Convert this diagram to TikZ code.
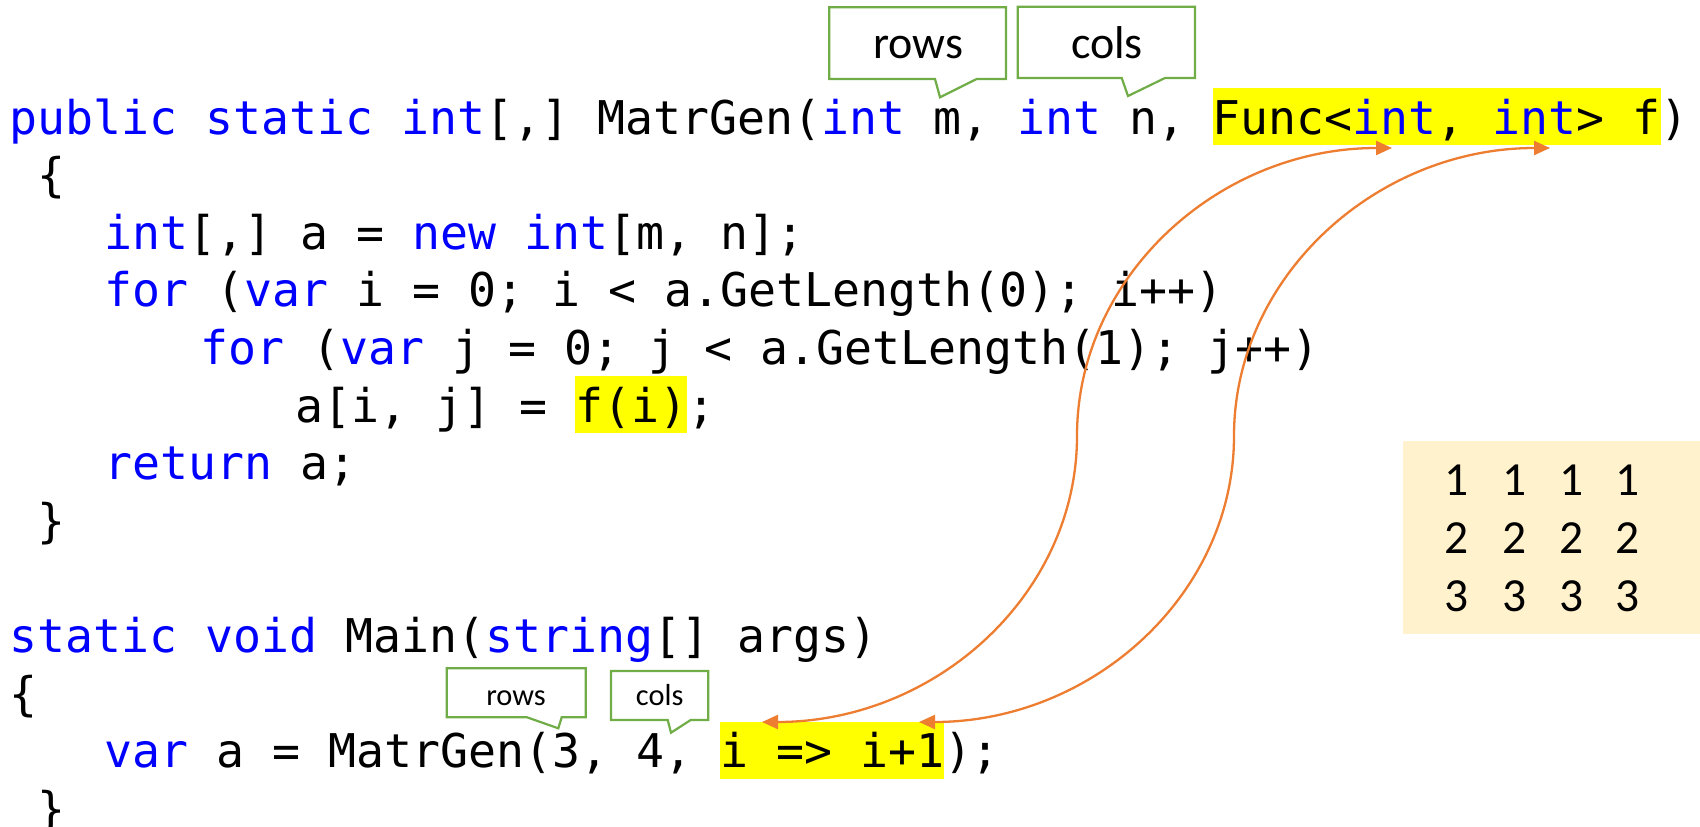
\documentclass[tikz,border=0pt]{standalone}
\usepackage{fontspec}
\usetikzlibrary{arrows.meta}
\newfontfamily\codefont{DejaVu Sans Mono}
\newfontfamily\calfont{Carlito}
\definecolor{kwblue}{HTML}{0000FF}
\definecolor{hlyellow}{HTML}{FFFF00}
\definecolor{arrorange}{HTML}{ED7D31}
\definecolor{callgreen}{HTML}{70AD47}
\definecolor{matfill}{HTML}{FFF2CC}
\newcommand{\kw}[1]{\textcolor{kwblue}{#1}}
\begin{document}
\begin{tikzpicture}[x=1pt,y=-1pt,
  code/.style={inner sep=0pt, anchor=base west, font=\codefont\fontsize{46.5}{56}\selectfont\frenchspacing},
  hlbox/.style={fill=hlyellow, draw=none, inner sep=0pt, anchor=north west, minimum height=57pt},
  conn/.style={draw=arrorange, line width=2.3pt, {Triangle[length=16pt,width=14pt]}-{Triangle[length=16pt,width=14pt]}},
  callbox/.style={draw=callgreen, fill=white, line width=2.2pt, line join=miter},
  calltext/.style={inner sep=0pt, anchor=base, font=\calfont\fontsize{46}{50}\selectfont},
  callsmall/.style={inner sep=0pt, anchor=base, font=\calfont\fontsize{30.4}{34}\selectfont},
  matbox/.style={fill=matfill, draw=none, inner sep=0pt, anchor=north west},
  digit/.style={inner sep=0pt, anchor=base, font=\calfont\fontsize{47.5}{52}\selectfont}]
\useasboundingbox (0,0) rectangle (1700,827);

% result matrix
\node[matbox, minimum width=297pt, minimum height=193pt] (mat) at (1403,441) {};
\foreach \r/\yy in {1/495,2/553,3/611}{
  \foreach \c/\xx in {1/1457,2/1515,3/1572,4/1628}{
    \node[digit] (m\r\c) at (\xx,\yy) {\r};
  }
}

% highlights
\node[hlbox, minimum width=448pt] (hlfunc) at (1213,88) {};
\node[hlbox, minimum width=112pt] (hlfi) at (575,376) {};
\node[hlbox, minimum width=224pt] (hllam) at (720,722) {};

% code
\node[code] (l1) at (9,134) {\kw{public} \kw{static} \kw{int}[,] MatrGen(\kw{int} m, \kw{int} n, Func<\kw{int}, \kw{int}> f)};
\node[code] (l2) at (37,191.6) {\{};
\node[code] (l3) at (104,249.2) {\kw{int}[,] a = \kw{new} \kw{int}[m, n];};
\node[code] (l4) at (104,306.8) {\kw{for} (\kw{var} i = 0; i < a.GetLength(0); i++)};
\node[code] (l5) at (200,364.4) {\kw{for} (\kw{var} j = 0; j < a.GetLength(1); j++)};
\node[code] (l6) at (295,422) {a[i, j] = f(i);};
\node[code] (l7) at (104,479.6) {\kw{return} a;};
\node[code] (l8) at (37,537.2) {\}};
\node[code] (l10) at (9,652.4) {\kw{static} \kw{void} Main(\kw{string}[] args)};
\node[code] (l11) at (9,710) {\{};
\node[code] (l12) at (104,767.6) {\kw{var} a = MatrGen(3, 4, i => i+1);};
\node[code] (l13) at (37,825.2) {\}};

% connectors
\coordinate (a1bot) at (762,722);
\coordinate (a1mid) at (1077,436);
\coordinate (a1top) at (1392,148);
\coordinate (a2bot) at (919,722);
\coordinate (a2mid) at (1234,436);
\coordinate (a2top) at (1550,148);
\draw[conn] (a1bot) .. controls (936,722) and (1077,594) .. (a1mid) .. controls (1077,277) and (1218,148) .. (a1top);
\draw[conn] (a2bot) .. controls (1093,722) and (1234,594) .. (a2mid) .. controls (1234,277) and (1376,148) .. (a2top);

% callouts top
\draw[callbox] (829.3,7.3) -- (1006,7.3) -- (1006,79) -- (976.7,79) -- (940,97.3) -- (935,79) -- (829.3,79) -- cycle;
\node[calltext] (crows) at (918.5,58) {rows};
\draw[callbox] (1017.7,6.7) -- (1195,6.7) -- (1195,78) -- (1165,78) -- (1128,96) -- (1121.7,78) -- (1017.7,78) -- cycle;
\node[calltext] (ccols) at (1107,58) {cols};

% callouts bottom
\draw[callbox] (446.7,668.3) -- (585.7,668.3) -- (585.7,717.3) -- (561.7,717.3) -- (558.3,728.3) -- (527,717.3) -- (446.7,717.3) -- cycle;
\node[callsmall] (srows) at (516,705) {rows};
\draw[callbox] (611,671) -- (708.3,671) -- (708.3,720) -- (690.7,720) -- (671,732.7) -- (667.7,720) -- (611,720) -- cycle;
\node[callsmall] (scols) at (659.7,705) {cols};
\end{tikzpicture}
\end{document}
